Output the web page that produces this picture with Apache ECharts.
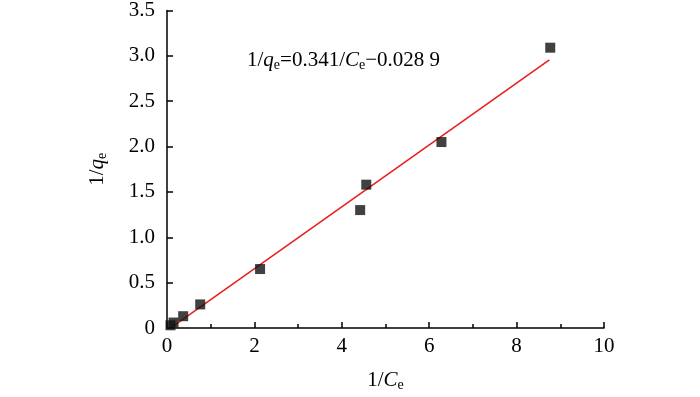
<!DOCTYPE html>
<html><head><meta charset="utf-8">
<script src="https://cdn.jsdelivr.net/npm/echarts@6/dist/echarts.min.js"></script>
<style>html,body{margin:0;padding:0;background:#fff}#c{width:700px;height:397px}</style>
</head><body><div id="c"></div>
<script>
const xTicks = [0, 2, 4, 6, 8, 10];
const yTicks = [0, 0.5, 1.0, 1.5, 2.0, 2.5, 3.0, 3.5];
const invCe = [0.08, 0.15, 0.37, 0.76, 2.13, 4.42, 4.56, 6.28, 8.77];
const invQe = [0.03, 0.06, 0.13, 0.26, 0.65, 1.30, 1.58, 2.05, 3.09];
const fitSlope = 0.341, fitIntercept = -0.0289;
const fitX = [0.12, 8.75];
const fitY = fitX.map(x => fitSlope * x + fitIntercept);

const font = '"Liberation Serif", "Times New Roman", serif';
const FS = 21;
const rich = {
  i: {fontFamily: font, fontSize: FS, fontStyle: 'italic', color: '#000', lineHeight: 24},
  sub: {fontFamily: font, fontSize: 14, color: '#000', verticalAlign: 'bottom', lineHeight: 12}
};
const chart = echarts.init(document.getElementById('c'), null, {renderer: 'canvas'});
chart.setOption({
  animation: false,
  backgroundColor: '#fff',
  grid: {left: 167, right: 96, top: 9, bottom: 66},
  xAxis: {
    type: 'value', min: 0, max: 10, interval: 2,
    axisLine: {show: true, lineStyle: {color: '#000', width: 1.5}},
    axisTick: {show: true, inside: true, length: 6, lineStyle: {color: '#000', width: 1.5}},
    minorTick: {show: true, splitNumber: 2, length: 4, lineStyle: {color: '#000', width: 1.5}},
    splitLine: {show: false},
    axisLabel: {fontFamily: font, fontSize: FS, color: '#000', margin: 8,
      formatter: v => xTicks.includes(v) ? String(v) : ''},
    name: '1/{i|C}{sub|e}', nameLocation: 'middle', nameGap: 40,
    nameTextStyle: {fontFamily: font, fontSize: FS, color: '#000', lineHeight: 24, rich: rich}
  },
  yAxis: {
    type: 'value', min: 0, max: 3.5, interval: 0.5,
    axisLine: {show: true, lineStyle: {color: '#000', width: 1.5}},
    axisTick: {show: true, inside: true, length: 6, lineStyle: {color: '#000', width: 1.5}},
    splitLine: {show: false},
    axisLabel: {fontFamily: font, fontSize: FS, color: '#000', margin: 12,
      formatter: v => v === 0 ? '0' : (yTicks.includes(v) ? v.toFixed(1) : '')},
    name: '1/{i|q}{sub|e}', nameLocation: 'middle', nameGap: 58, nameRotate: 90,
    nameTextStyle: {fontFamily: font, fontSize: FS, color: '#000', lineHeight: 24, rich: rich}
  },
  series: [
    {
      type: 'line', data: fitX.map((x, i) => [x, fitY[i]]),
      symbol: 'none', lineStyle: {color: '#e8201f', width: 1.6}, z: 2
    },
    {
      type: 'scatter', data: invCe.map((x, i) => [x, invQe[i]]),
      symbol: 'rect', symbolSize: 10,
      itemStyle: {color: '#111'}, z: 3
    }
  ],
  graphic: [{
    type: 'text', left: 247, top: 48,
    style: {
      text: '1/{i|q}{sub|e}=0.341/{i|C}{sub|e}\u22120.028 9',
      fontFamily: font, fontSize: FS, fill: '#000', lineHeight: 24,
      rich: {
        i: {fontFamily: font, fontSize: FS, fontStyle: 'italic', fill: '#000', lineHeight: 24},
        sub: {fontFamily: font, fontSize: 14, fill: '#000', verticalAlign: 'bottom', lineHeight: 12}
      }
    }
  }]
});
</script></body></html>
